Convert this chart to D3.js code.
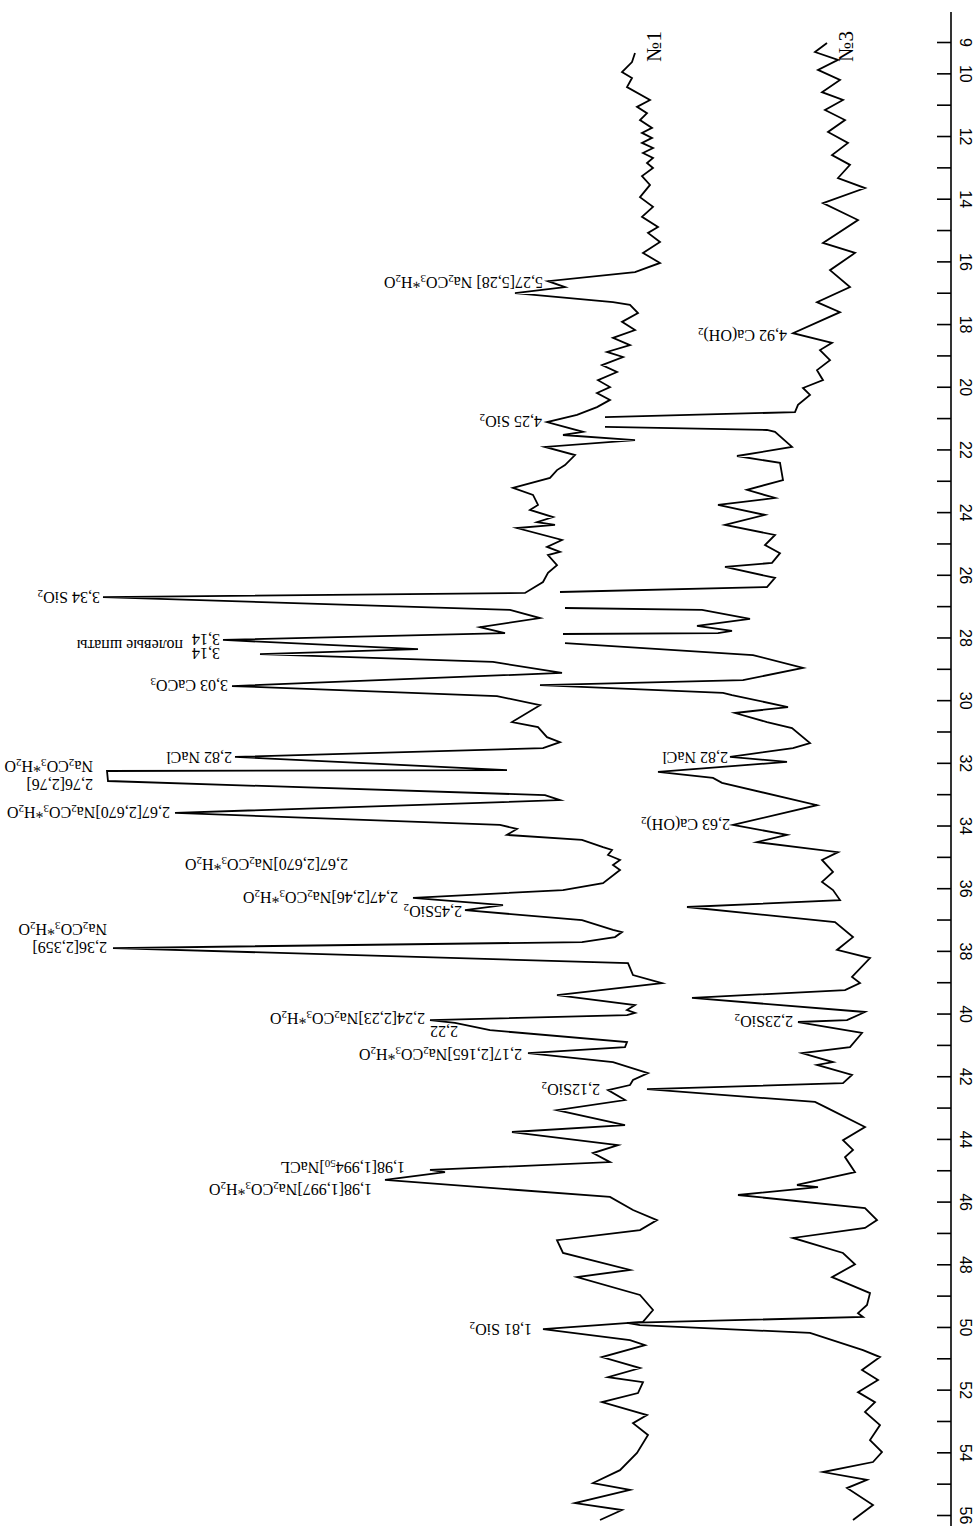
<!DOCTYPE html>
<html>
<head>
<meta charset="utf-8">
<script src="https://cdn.jsdelivr.net/npm/d3@7/dist/d3.min.js"></script>
<style>
  html, body { margin: 0; padding: 0; background: #fff; }
  svg { display: block; }
</style>
</head>
<body>
<svg id="chart" width="979" height="1526"></svg>
<script>
// ---- data: [2θ (deg), intensity (a.u.)] ----
const trace1 = [
[9.35,315],[9.64,318],[9.96,328],[10.15,318],[10.44,323],[10.85,300],[11.07,313],[11.27,303],[11.49,310],[11.74,298],[11.90,308],[12.06,298],[12.22,308],[12.38,297],[12.54,307],[12.70,297],[12.86,303],[13.02,297],[13.28,308],[13.56,300],[13.95,310],[14.26,297],[14.58,308],[14.90,292],[15.09,302],[15.38,290],[15.73,307],[16.05,290],[16.34,315],[16.63,402],[16.82,385],[17.01,435],[17.30,337],[17.39,320],[17.65,312],[17.93,328],[18.19,315],[18.44,337],[18.67,320],[18.89,343],[19.05,327],[19.31,348],[19.53,333],[19.79,352],[20.01,340],[20.20,353],[20.42,340],[20.65,353],[20.90,373],[21.13,403],[21.44,367],[21.54,387],[21.70,315],[21.92,405],[22.18,375],[22.50,385],[22.66,393],[22.91,400],[23.23,437],[23.45,417],[23.77,412],[23.93,420],[24.16,397],[24.32,413],[24.41,395],[24.51,433],[24.89,388],[25.11,403],[25.27,390],[25.37,402],[25.69,393],[25.94,402],[26.23,407],[26.58,425],[26.71,847],[27.12,440],[27.38,410],[27.67,470],[27.86,445],[28.08,727],[28.37,532],[28.53,690],[28.78,457],[29.13,388],[29.55,718],[29.87,453],[30.16,410],[30.70,438],[30.86,412],[31.18,403],[31.34,390],[31.53,407],[31.81,715],[32.23,443],[32.26,843],[32.58,842],[33.03,405],[33.19,390],[33.60,775],[33.98,450],[34.11,433],[34.30,443],[34.46,368],[34.69,347],[34.78,338],[34.94,342],[35.10,330],[35.26,337],[35.42,330],[35.84,347],[36.06,387],[36.31,537],[36.54,447],[36.70,485],[37.02,368],[37.33,337],[37.40,328],[37.56,335],[37.72,368],[37.91,837],[38.39,322],[38.77,317],[39.03,288],[39.41,393],[39.73,315],[39.89,323],[39.98,315],[40.05,323],[40.21,520],[40.30,495],[40.53,460],[40.91,323],[41.07,325],[41.26,422],[41.55,337],[41.90,302],[42.12,317],[42.28,320],[42.44,342],[42.76,325],[43.08,393],[43.56,325],[43.78,438],[44.20,332],[44.45,357],[44.74,340],[44.99,520],[45.06,505],[45.31,565],[45.85,340],[46.27,317],[46.59,293],[46.91,310],[47.23,393],[47.64,387],[48.18,320],[48.41,373],[48.98,310],[49.46,297],[49.84,307],[50.07,407],[50.42,320],[50.58,305],[50.96,348],[51.31,310],[51.60,342],[51.76,307],[52.11,312],[52.40,348],[52.81,303],[53.07,317],[53.45,302],[54.02,313],[54.57,330],[54.98,357],[55.20,320],[55.62,375],[55.84,328],[56.16,350]
];
const trace3 = [
[9.03,123],[9.32,135],[9.57,112],[9.89,132],[10.21,110],[10.60,128],[10.85,107],[11.17,125],[11.49,105],[11.87,122],[12.22,102],[12.61,118],[12.92,100],[13.34,112],[13.66,85],[14.14,127],[14.68,92],[15.41,127],[15.73,95],[16.28,120],[16.82,100],[17.30,133],[17.62,110],[18.29,157],[18.60,118],[18.83,130],[19.15,120],[19.47,133],[19.79,127],[20.04,147],[20.26,140],[20.58,152],[20.81,155],[20.97,345],[21.10,null],[21.28,345],[21.38,183],[21.44,175],[21.92,158],[22.21,213],[22.43,170],[22.98,167],[23.29,203],[23.55,175],[23.77,232],[24.09,185],[24.41,225],[24.73,175],[25.05,185],[25.31,170],[25.62,178],[25.75,225],[26.10,175],[26.39,183],[26.55,390],[26.80,null],[27.06,385],[27.12,248],[27.41,200],[27.63,253],[27.79,218],[27.86,232],[27.89,387],[28.00,null],[28.18,385],[28.56,197],[28.97,147],[29.36,207],[29.52,410],[29.77,227],[29.84,218],[30.22,162],[30.41,215],[30.70,183],[30.89,158],[31.37,140],[31.53,157],[31.81,220],[31.97,163],[32.29,292],[32.48,237],[32.64,228],[33.35,133],[33.98,217],[34.30,163],[34.53,193],[34.85,112],[35.10,128],[35.48,117],[35.80,128],[36.06,117],[36.38,110],[36.60,263],[37.08,115],[37.56,97],[37.97,113],[38.23,80],[38.83,98],[39.03,90],[39.25,105],[39.50,258],[39.95,85],[40.21,103],[40.27,152],[40.62,88],[41.07,100],[41.26,148],[41.55,117],[41.64,133],[41.96,98],[42.22,107],[42.41,303],[42.82,135],[43.01,123],[43.62,85],[44.04,107],[44.35,97],[44.58,105],[45.06,95],[45.47,153],[45.54,132],[45.79,212],[46.21,85],[46.59,73],[46.84,85],[47.16,157],[47.64,107],[48.00,95],[48.41,118],[48.92,80],[49.30,83],[49.56,92],[49.68,87],[49.87,323],[49.94,310],[50.19,140],[50.74,87],[50.96,70],[51.37,88],[51.69,72],[52.08,92],[52.40,75],[52.71,85],[53.13,70],[53.61,80],[53.99,68],[54.31,77],[54.63,127],[54.88,83],[55.14,103],[55.68,77],[56.16,97]
];
const seriesNames = ["№1", "№3"];
const tickValues = d3.range(9, 57, 1);
const tickLabels = [9, 10, 12, 14, 16, 18, 20, 22, 24, 26, 28, 30, 32, 34, 36, 38, 40, 42, 44, 46, 48, 50, 52, 54, 56];

// peak annotations: text (with _n subscripts), 2θ and intensity of the label's end point
const labels = [
 {t:"5,27[5,28] Na_2CO_3*H_2O", th:16.69, i:407},
 {t:"4,25 SiO_2", th:21.13, i:408},
 {t:"3,34 SiO_2", th:26.74, i:850},
 {t:"3,14", th:28.08, i:730},
 {t:"полевые шпаты", th:28.27, i:767},
 {t:"3,14", th:28.53, i:730},
 {t:"3,03 CaCO_3", th:29.55, i:722},
 {t:"2,82 NaCl", th:31.85, i:718},
 {t:"Na_2CO_3*H_2O", th:32.13, i:857},
 {t:"2,76[2,76]", th:32.71, i:857},
 {t:"2,67[2,670]Na_2CO_3*H_2O", th:33.60, i:780},
 {t:"2,67[2,670]Na_2CO_3*H_2O", th:35.26, i:602},
 {t:"2,47[2,46]Na_2CO_3*H_2O", th:36.31, i:552},
 {t:"2,45SiO_2", th:36.76, i:488},
 {t:"Na_2CO_3*H_2O", th:37.33, i:843},
 {t:"2,36[2,359]", th:37.91, i:843},
 {t:"2,24[2,23]Na_2CO_3*H_2O", th:40.17, i:525},
 {t:"2,22", th:40.59, i:492},
 {t:"2,17[2,165]Na_2CO_3*H_2O", th:41.32, i:428},
 {t:"2,12SiO_2", th:42.44, i:350},
 {t:"1,98[1,994_50]NaCL", th:44.93, i:545},
 {t:"1,98[1,997]Na_2CO_3*H_2O", th:45.63, i:578},
 {t:"1,81 SiO_2", th:50.10, i:418},
 {t:"4,92 Ca(OH)_2", th:18.38, i:163},
 {t:"2,82 NaCl", th:31.85, i:222},
 {t:"2,63 Ca(OH)_2", th:33.98, i:220},
 {t:"2,23SiO_2", th:40.27, i:157}
];

// ---- drawing ----
const svg = d3.select("#chart");
const y = d3.scaleLinear().domain([9, 56]).range([42, 1515]);
const x = d3.scaleLinear().domain([0, 900]).range([950, 50]);

const line = d3.line()
  .defined(d => d[1] !== null)
  .x(d => x(d[1]))
  .y(d => y(d[0]));

[trace1, trace3].forEach(tr => {
  svg.append("path")
    .datum(tr)
    .attr("d", line)
    .attr("fill", "none")
    .attr("stroke", "#000")
    .attr("stroke-width", 1.8)
    .attr("stroke-linejoin", "miter")
    .attr("stroke-miterlimit", 6);
});

// axis
const axisX = 951;
svg.append("line")
  .attr("x1", axisX).attr("x2", axisX)
  .attr("y1", 12).attr("y2", 1526)
  .attr("stroke", "#000").attr("stroke-width", 1.6);

const labelSet = new Set(tickLabels);
const axis = d3.axisRight(y)
  .tickValues(tickValues)
  .tickSizeInner(-14)
  .tickSizeOuter(0)
  .tickFormat(d => labelSet.has(d) ? String(d) : "");
const gAxis = svg.append("g")
  .attr("transform", `translate(${axisX},0)`)
  .call(axis);
gAxis.select(".domain").remove();
gAxis.selectAll(".tick line").attr("stroke", "#000").attr("stroke-width", 1.6);
gAxis.selectAll(".tick text")
  .attr("x", null).attr("dy", null)
  .attr("transform", "translate(14,0) rotate(90)")
  .attr("text-anchor", "middle")
  .attr("dominant-baseline", "central")
  .attr("fill", "#000")
  .style("font-family", "'Liberation Sans', Arial, sans-serif")
  .style("font-size", "16px");

// series names
[trace1, trace3].forEach((tr, k) => {
  const first = tr[0];
  svg.append("text")
    .attr("transform", `translate(${x(first[1]) + 19},${y(9.14)}) rotate(-90)`)
    .attr("text-anchor", "middle")
    .attr("dominant-baseline", "central")
    .style("font-family", "'Liberation Serif', 'DejaVu Serif', serif")
    .style("font-size", "21px")
    .text(seriesNames[k]);
});

// peak labels, upside-down (rotated 180°)
labels.forEach(l => {
  const txt = svg.append("text")
    .attr("transform", `translate(${x(l.i)},${y(l.th)}) rotate(180)`)
    .attr("text-anchor", "start")
    .attr("dominant-baseline", "central")
    .style("font-family", "'Liberation Serif', 'Times New Roman', serif")
    .style("font-size", "16px");
  const parts = l.t.split(/_(\d+)/);
  let shifted = false;
  parts.forEach((p, idx) => {
    if (p === "") return;
    const isSub = idx % 2 === 1;
    const ts = txt.append("tspan").text(p);
    if (isSub) {
      ts.style("font-size", "11px");
      if (!shifted) { ts.attr("dy", 4); shifted = true; }
    } else if (shifted) {
      ts.attr("dy", -4); shifted = false;
    }
  });
});
</script>
</body>
</html>
